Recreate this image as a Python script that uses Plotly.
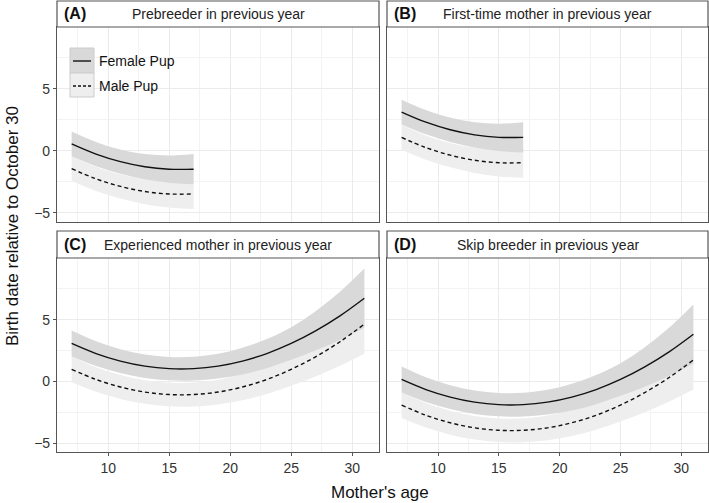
import plotly.graph_objects as go

# mother's age grids (short panels stop at 17)
age_short = [7, 9, 11, 13, 15, 17]
age_long = [7, 9, 11, 13, 15, 17, 19, 21, 23, 25, 27, 29, 31]

panel_tags = ["(A)", "(B)", "(C)", "(D)"]
panel_titles = ["Prebreeder in previous year",
                "First-time mother in previous year",
                "Experienced mother in previous year",
                "Skip breeder in previous year"]

# fitted birth date (days relative to Oct 30)
female_a = [0.57, -0.25, -0.86, -1.27, -1.47, -1.47]
male_a = [-1.43, -2.25, -2.86, -3.27, -3.47, -3.47]
female_b = [3.14, 2.32, 1.71, 1.30, 1.10, 1.10]
male_b = [1.09, 0.27, -0.34, -0.75, -0.95, -0.95]
female_c = [3.07, 2.25, 1.64, 1.23, 1.03, 1.03, 1.23, 1.64, 2.25, 3.07, 4.09, 5.31, 6.74]
male_c = [0.97, 0.15, -0.46, -0.87, -1.07, -1.07, -0.87, -0.46, 0.15, 0.97, 1.99, 3.21, 4.64]
female_d = [0.15, -0.67, -1.28, -1.69, -1.89, -1.89, -1.69, -1.28, -0.67, 0.15, 1.17, 2.39, 3.82]
male_d = [-1.93, -2.75, -3.36, -3.77, -3.97, -3.97, -3.77, -3.36, -2.75, -1.93, -0.91, 0.31, 1.74]

# half width of the confidence band
ci_short = [1.0, 0.98, 0.98, 1.02, 1.1, 1.22]
ci_long = [1.05, 1.0, 0.97, 0.95, 0.95, 0.97, 1.0, 1.08, 1.18, 1.32, 1.6, 1.95, 2.4]

panels = [
    (age_short, female_a, male_a, ci_short),
    (age_short, female_b, male_b, ci_short),
    (age_long, female_c, male_c, ci_long),
    (age_long, female_d, male_d, ci_long),
]

FEMALE_FILL = "#d9d9d9"
MALE_FILL = "#eeeeee"
FONT = "Liberation Sans, Arial, sans-serif"

# layout in pixels -> paper
L, R, T, B = 57, 1, 1, 51
W, H = 709, 503
pw, ph = W - L - R, H - T - B
def fx(px):
    return (px - L) / pw
def fy(py):
    return (H - B - py) / ph

x_dom = [[0, fx(379)], [fx(387), 1]]
y_dom = [[fy(222), fy(27)], [0, fy(258)]]
strip_y = [[fy(27), fy(1)], [fy(258), fy(231)]]

fig = go.Figure()

def band(x, fit, half, xa, ya, color):
    upper = [f + h for f, h in zip(fit, half)]
    lower = [f - h for f, h in zip(fit, half)]
    fig.add_trace(go.Scatter(x=x, y=upper, mode="lines", line=dict(width=0, shape="spline"),
                             xaxis=xa, yaxis=ya, showlegend=False, hoverinfo="skip"))
    fig.add_trace(go.Scatter(x=x, y=lower, mode="lines", line=dict(width=0, shape="spline"),
                             fill="tonexty", fillcolor=color,
                             xaxis=xa, yaxis=ya, showlegend=False, hoverinfo="skip"))

for i, (x, fem, mal, half) in enumerate(panels):
    xa = "x" if i == 0 else "x%d" % (i + 1)
    ya = "y" if i == 0 else "y%d" % (i + 1)
    band(x, mal, half, xa, ya, MALE_FILL)
    band(x, fem, half, xa, ya, FEMALE_FILL)
    fig.add_trace(go.Scatter(x=x, y=mal, mode="lines", name="Male Pup",
                             line=dict(color="#111111", width=1.4, dash="4px,3px", shape="spline"),
                             xaxis=xa, yaxis=ya, showlegend=False))
    fig.add_trace(go.Scatter(x=x, y=fem, mode="lines", name="Female Pup",
                             line=dict(color="#111111", width=1.4, shape="spline"),
                             xaxis=xa, yaxis=ya, showlegend=False))

axis_common = dict(showline=True, mirror=True, linecolor="#555555", linewidth=1.2,
                   gridcolor="#ebebeb", gridwidth=1, zeroline=False,
                   tickfont=dict(family=FONT, size=14, color="#333333"),
                   ticks="outside", ticklen=3, tickcolor="#555555")

layout = dict(width=W, height=H, margin=dict(l=L, r=R, t=T, b=B),
              paper_bgcolor="white", plot_bgcolor="white", showlegend=False,
              font=dict(family=FONT))

for i in range(4):
    row, col = divmod(i, 2)
    suf = "" if i == 0 else str(i + 1)
    layout["xaxis" + suf] = dict(axis_common, domain=x_dom[col], range=[5.8, 32.2],
                                 anchor="y" + suf, tickvals=[10, 15, 20, 25, 30],
                                 showticklabels=(row == 1), ticks="outside" if row == 1 else "",
                                 minor=dict(tick0=0, dtick=2.5, showgrid=True,
                                            gridcolor="#f3f3f3", gridwidth=0.8))
    layout["yaxis" + suf] = dict(axis_common, domain=y_dom[row], range=[-5.73, 10.0],
                                 anchor="x" + suf, tickvals=[-5, 0, 5],
                                 showticklabels=(col == 0), ticks="outside" if col == 0 else "",
                                 minor=dict(tick0=0, dtick=2.5, showgrid=True,
                                            gridcolor="#f3f3f3", gridwidth=0.8))

fig.update_layout(**layout)

shapes = []
annotations = []
for i in range(4):
    row, col = divmod(i, 2)
    x0, x1 = x_dom[col]
    y0, y1 = strip_y[row]
    shapes.append(dict(type="rect", xref="paper", yref="paper", x0=x0, x1=x1, y0=y0, y1=y1,
                       fillcolor="white", line=dict(color="#555555", width=1.2)))
    annotations.append(dict(xref="paper", yref="paper", x=x0 + fx(62) - fx(57), y=(y0 + y1) / 2,
                            text="<b>%s</b>" % panel_tags[i], showarrow=False,
                            xanchor="left", yanchor="middle",
                            font=dict(family=FONT, size=16, color="#111111")))
    annotations.append(dict(xref="paper", yref="paper", x=(x0 + x1) / 2, y=(y0 + y1) / 2,
                            text=panel_titles[i], showarrow=False,
                            xanchor="center", yanchor="middle",
                            font=dict(family=FONT, size=14, color="#222222")))

# legend drawn inside panel A
shapes.append(dict(type="rect", xref="paper", yref="paper", x0=fx(70), x1=fx(94), y0=fy(73), y1=fy(48),
                   fillcolor=FEMALE_FILL, line=dict(color="#cccccc", width=1)))
shapes.append(dict(type="rect", xref="paper", yref="paper", x0=fx(70), x1=fx(94), y0=fy(97), y1=fy(73),
                   fillcolor=MALE_FILL, line=dict(color="#cccccc", width=1)))
shapes.append(dict(type="line", xref="paper", yref="paper", x0=fx(73), x1=fx(91), y0=fy(61), y1=fy(61),
                   line=dict(color="#111111", width=1.4)))
shapes.append(dict(type="line", xref="paper", yref="paper", x0=fx(73), x1=fx(91), y0=fy(86), y1=fy(86),
                   line=dict(color="#111111", width=1.4, dash="3px,2px")))
annotations.append(dict(xref="paper", yref="paper", x=fx(97), y=fy(61), text="Female Pup",
                        showarrow=False, xanchor="left", yanchor="middle",
                        font=dict(family=FONT, size=14, color="#111111")))
annotations.append(dict(xref="paper", yref="paper", x=fx(97), y=fy(86), text="Male Pup",
                        showarrow=False, xanchor="left", yanchor="middle",
                        font=dict(family=FONT, size=14, color="#111111")))

# axis titles
annotations.append(dict(xref="paper", yref="paper", x=fx(380), y=fy(492), text="Mother's age",
                        showarrow=False, xanchor="center", yanchor="middle",
                        font=dict(family=FONT, size=17, color="#111111")))
annotations.append(dict(xref="paper", yref="paper", x=fx(12), y=fy(226),
                        text="Birth date relative to October 30", textangle=-90,
                        showarrow=False, xanchor="center", yanchor="middle",
                        font=dict(family=FONT, size=17, color="#111111")))

fig.update_layout(shapes=shapes, annotations=annotations)

fig.write_html("out.html", config={"displayModeBar": False},
               post_script="document.body.style.margin='0';")
